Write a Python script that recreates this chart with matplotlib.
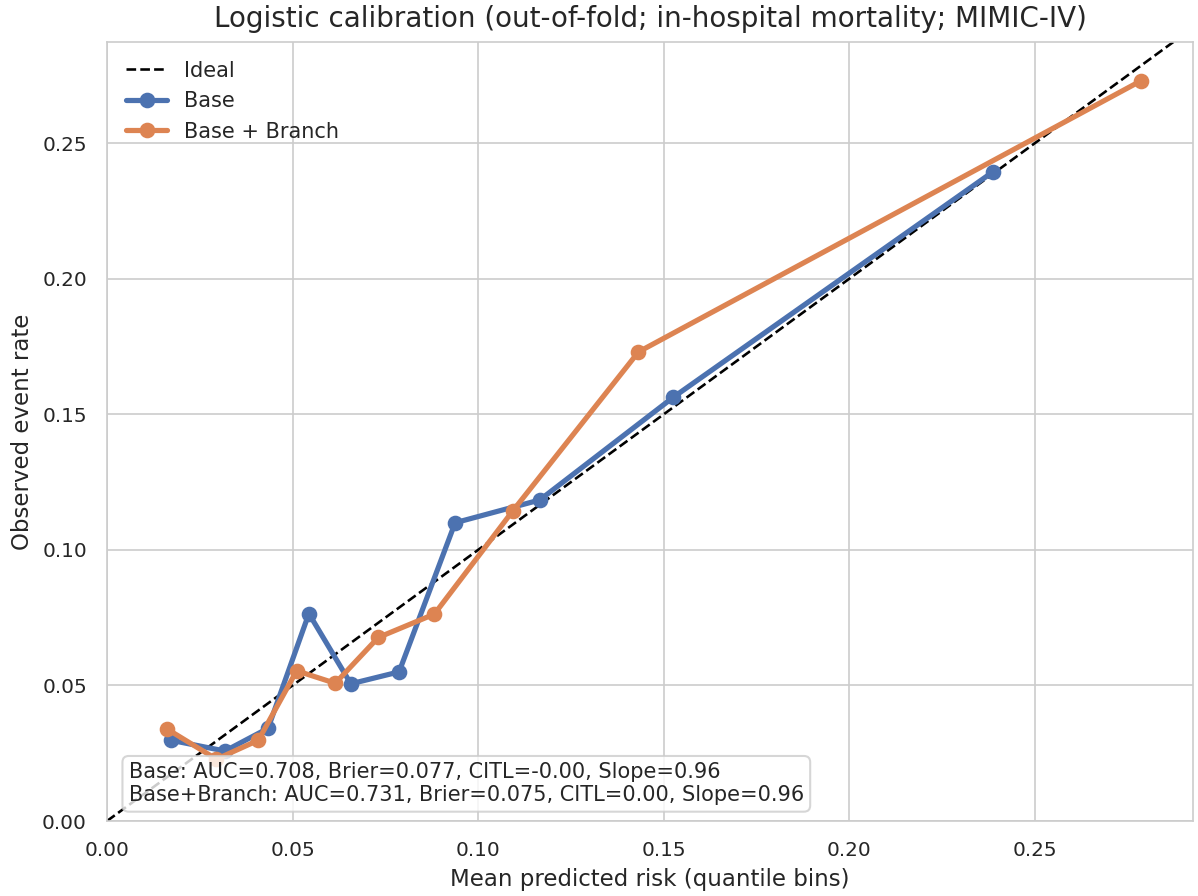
import matplotlib
matplotlib.use("Agg")
import matplotlib.pyplot as plt
import seaborn as sns

base_x = [0.0172, 0.0318, 0.0434, 0.0544, 0.0657, 0.0787, 0.0938, 0.1166, 0.1526, 0.2388]
base_y = [0.0298, 0.0258, 0.0342, 0.0765, 0.0506, 0.0550, 0.1100, 0.1184, 0.1563, 0.2395]
branch_x = [0.0161, 0.0295, 0.0408, 0.0511, 0.0615, 0.0731, 0.0882, 0.1093, 0.1432, 0.2786]
branch_y = [0.0340, 0.0228, 0.0298, 0.0554, 0.0508, 0.0677, 0.0763, 0.1143, 0.1730, 0.2730]

title = "Logistic calibration (out-of-fold; in-hospital mortality; MIMIC-IV)"
summary = ("Base: AUC=0.708, Brier=0.077, CITL=-0.00, Slope=0.96\n"
           "Base+Branch: AUC=0.731, Brier=0.075, CITL=0.00, Slope=0.96")

sns.set_style("whitegrid")
pal = sns.color_palette("deep")

fig = plt.figure(figsize=(1198 / 150, 896 / 150), dpi=150)
ax = fig.add_axes([0.0893, 0.0837, 0.9065, 0.8694])
lim_y = 0.2873
lim_x = 0.2926
ax.plot([0, lim_y], [0, lim_y], "k--", lw=1.25, label="Ideal")
ax.plot(base_x, base_y, marker="o", lw=2.5, ms=6.5, color=pal[0], label="Base")
ax.plot(branch_x, branch_y, marker="o", lw=2.5, ms=6.5, color=pal[1], label="Base + Branch")
ax.set_xlim(0, lim_x)
ax.set_ylim(0, lim_y)
ax.set_xlabel("Mean predicted risk (quantile bins)", fontsize=11)
ax.set_ylabel("Observed event rate", fontsize=11)
ax.set_title(title, fontsize=13.3, pad=7)
ax.tick_params(labelsize=9.6, pad=6.1)
ax.legend(loc="upper left", frameon=False, fontsize=10)
ax.text(0.02, 0.02, summary, transform=ax.transAxes, fontsize=10, va="bottom", ha="left",
        bbox=dict(boxstyle="round,pad=0.3", facecolor="white", edgecolor="0.8", alpha=0.8))
fig.savefig("out.png", dpi=150)
